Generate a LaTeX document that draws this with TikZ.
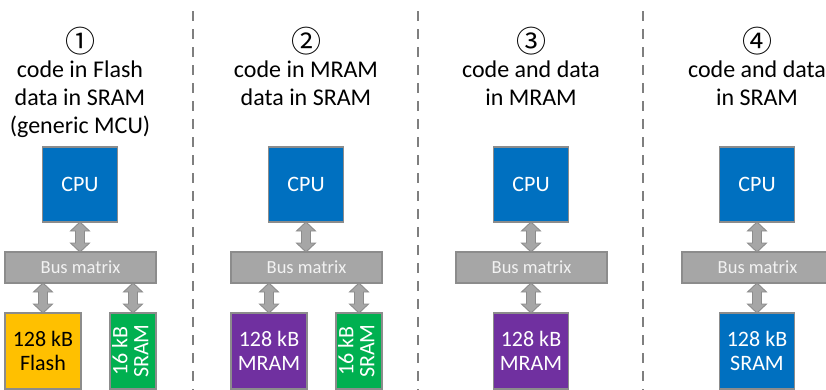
\documentclass[tikz,border=0pt]{standalone}
\usepackage{fontspec}
\setmainfont{Carlito}
\newfontfamily\symfont{Noto Sans CJK SC}
\usetikzlibrary{calc}

\definecolor{cpublue}{HTML}{0070C0}
\definecolor{flashorange}{HTML}{FFC000}
\definecolor{sramgreen}{HTML}{00B050}
\definecolor{mrampurple}{HTML}{7030A0}
\definecolor{busgray}{HTML}{A6A6A6}
\definecolor{edgegray}{HTML}{8C8C8C}
\definecolor{sepgray}{HTML}{7F7F7F}
\definecolor{buslabel}{HTML}{F2F2F2}

\tikzset{
  block/.style={draw=edgegray, line width=1.3pt, inner sep=0pt, outer sep=0pt,
    align=center, text=white, font=\fontsize{22}{24}\selectfont},
  cpubox/.style={block, fill=cpublue, minimum width=75pt, minimum height=75pt},
  busbox/.style={block, fill=busgray, minimum width=151pt, minimum height=31pt,
    text=buslabel, font=\fontsize{18.5}{20}\selectfont},
  membox/.style={block, minimum width=76pt, minimum height=76pt},
  narrowbox/.style={block, minimum width=46pt, minimum height=76pt},
  heading/.style={anchor=base, inner sep=0pt, font=\fontsize{24}{28}\selectfont},
  numeral/.style={inner sep=0pt, font=\symfont\fontsize{30}{32}\selectfont},
  separator/.style={draw=sepgray, line width=2.2pt, dash pattern=on 10pt off 8pt},
  busarrow/.style={fill=busgray, draw=edgegray, line width=0.9pt, line join=miter},
}

% two-headed block arrow between an upper point #1 and a lower point #2
\newcommand\duplexlink[2]{%
  \draw[busarrow] (#1) -- ($(#1)+(9.5,9)$) -- ($(#1)+(4.5,9)$)
    -- ($(#2)+(4.5,-9)$) -- ($(#2)+(9.5,-9)$) -- (#2)
    -- ($(#2)+(-9.5,-9)$) -- ($(#2)+(-4.5,-9)$)
    -- ($(#1)+(-4.5,9)$) -- ($(#1)+(-9.5,9)$) -- cycle;}

\begin{document}
\begin{tikzpicture}[x=1pt, y=-1pt]
  \useasboundingbox (0,0) rectangle (826,389);
  \clip (0,0) rectangle (826,389);

  % column separators
  \coordinate (sa1) at (193,11);  \coordinate (sa2) at (193,395);
  \coordinate (sb1) at (418,11);  \coordinate (sb2) at (418,395);
  \coordinate (sc1) at (643,11);  \coordinate (sc2) at (643,395);
  \draw[separator] (sa1) -- (sa2);
  \draw[separator] (sb1) -- (sb2);
  \draw[separator] (sc1) -- (sc2);

  % ---- variant 1: generic MCU ----
  \node[numeral] (n1) at (80,41.5) {①};
  \node[heading] (h1a) at (80,77) {code in Flash};
  \node[heading] (h1b) at (80,105) {data in SRAM};
  \node[heading] (h1c) at (80,133) {(generic MCU)};
  \node[cpubox] (cpu1) at (80,184.5) {CPU};
  \node[busbox] (bus1) at (80.5,267.5) {Bus matrix};
  \node[membox, fill=flashorange, text=black] (flash1) at (43,351) {128 kB\\Flash};
  \node[narrowbox, fill=sramgreen] (sram1) at (133,351)
    {\rotatebox{90}{\begin{tabular}{@{}c@{}}16 kB\\[-3pt]SRAM\end{tabular}}};
  \coordinate (c1bot) at (cpu1.south);
  \coordinate (b1top) at (cpu1.south |- bus1.north);
  \coordinate (f1top) at (bus1.south -| flash1.north);
  \coordinate (f1mem) at (flash1.north);
  \coordinate (s1top) at (bus1.south -| sram1.north);
  \coordinate (s1mem) at (sram1.north);
  \duplexlink{c1bot}{b1top}
  \duplexlink{f1top}{f1mem}
  \duplexlink{s1top}{s1mem}

  % ---- variant 2: code in MRAM ----
  \node[numeral] (n2) at (306,41.5) {②};
  \node[heading] (h2a) at (306,77) {code in MRAM};
  \node[heading] (h2b) at (306,105) {data in SRAM};
  \node[cpubox] (cpu2) at (306,184.5) {CPU};
  \node[busbox] (bus2) at (306.5,267.5) {Bus matrix};
  \node[membox, fill=mrampurple] (mram2) at (269,351) {128 kB\\MRAM};
  \node[narrowbox, fill=sramgreen] (sram2) at (359,351)
    {\rotatebox{90}{\begin{tabular}{@{}c@{}}16 kB\\[-3pt]SRAM\end{tabular}}};
  \coordinate (c2bot) at (cpu2.south);
  \coordinate (b2top) at (cpu2.south |- bus2.north);
  \coordinate (m2top) at (bus2.south -| mram2.north);
  \coordinate (m2mem) at (mram2.north);
  \coordinate (s2top) at (bus2.south -| sram2.north);
  \coordinate (s2mem) at (sram2.north);
  \duplexlink{c2bot}{b2top}
  \duplexlink{m2top}{m2mem}
  \duplexlink{s2top}{s2mem}

  % ---- variant 3: everything in MRAM ----
  \node[numeral] (n3) at (531,41.5) {③};
  \node[heading] (h3a) at (531,77) {code and data};
  \node[heading] (h3b) at (531,105) {in MRAM};
  \node[cpubox] (cpu3) at (531,184.5) {CPU};
  \node[busbox] (bus3) at (531.5,267.5) {Bus matrix};
  \node[membox, minimum width=75pt, fill=mrampurple] (mram3) at (531,351) {128 kB\\MRAM};
  \coordinate (c3bot) at (cpu3.south);
  \coordinate (b3top) at (cpu3.south |- bus3.north);
  \coordinate (m3top) at (bus3.south -| mram3.north);
  \coordinate (m3mem) at (mram3.north);
  \duplexlink{c3bot}{b3top}
  \duplexlink{m3top}{m3mem}

  % ---- variant 4: everything in SRAM ----
  \node[numeral] (n4) at (757,41.5) {④};
  \node[heading] (h4a) at (757,77) {code and data};
  \node[heading] (h4b) at (757,105) {in SRAM};
  \node[cpubox] (cpu4) at (757,184.5) {CPU};
  \node[busbox] (bus4) at (757.5,267.5) {Bus matrix};
  \node[membox, minimum width=75pt, fill=cpublue] (sram4) at (757,351) {128 kB\\SRAM};
  \coordinate (c4bot) at (cpu4.south);
  \coordinate (b4top) at (cpu4.south |- bus4.north);
  \coordinate (r4top) at (bus4.south -| sram4.north);
  \coordinate (r4mem) at (sram4.north);
  \duplexlink{c4bot}{b4top}
  \duplexlink{r4top}{r4mem}
\end{tikzpicture}
\end{document}
